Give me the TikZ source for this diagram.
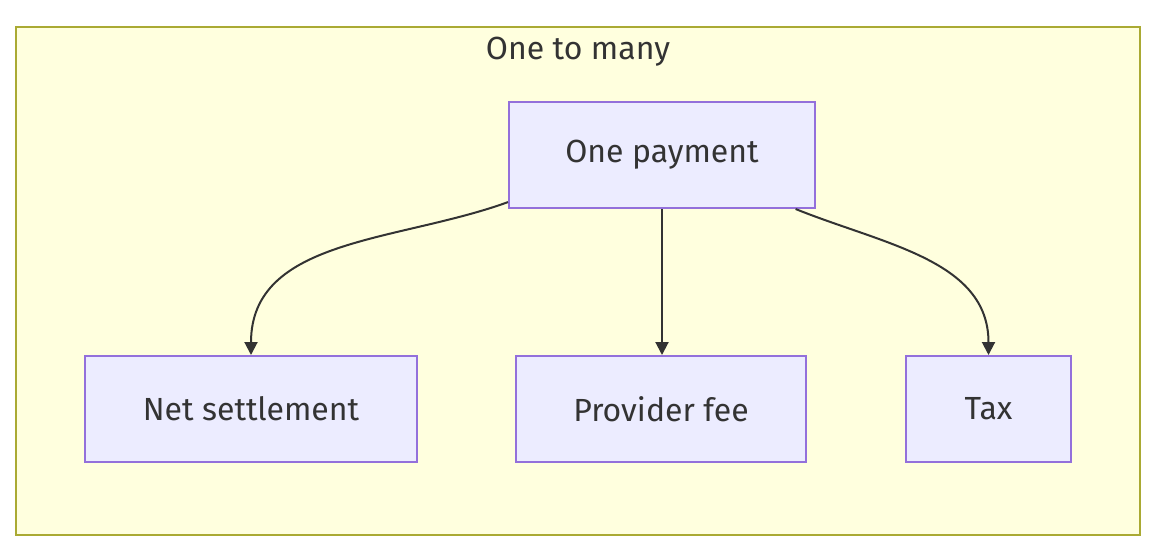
\documentclass[tikz,border=0pt]{standalone}
\usepackage{fontspec}
\setmainfont{Fira Sans}
\usetikzlibrary{arrows.meta}
\definecolor{clusterfill}{HTML}{FFFFDE}
\definecolor{clusterline}{HTML}{AAAA33}
\definecolor{boxfill}{HTML}{ECECFF}
\definecolor{boxline}{HTML}{9370DB}
\definecolor{ink}{HTML}{333333}
\tikzset{
  box/.style={draw=boxline, fill=boxfill, line width=1pt, text=ink,
    minimum height=53pt, inner sep=0pt, font=\fontsize{16}{19}\selectfont},
  flow/.style={draw=ink, line width=1pt, -{Triangle[length=6.5pt,width=6.5pt]}}
}
\begin{document}
\begin{tikzpicture}[x=0.5pt, y=-0.5pt]
\useasboundingbox (0,0) rectangle (1172,559);
% the cluster
\draw[draw=clusterline, fill=clusterfill, line width=1pt] (16,27) rectangle (1140,535);
\node[text=ink, font=\fontsize{16}{19}\selectfont] (title) at (578,52) {One to many};
% the boxes
\node[box, minimum width=153pt] (pay) at (662,155) {One payment};
\node[box, minimum width=166pt] (net) at (251,409) {Net settlement};
\node[box, minimum width=145pt] (fee) at (661,409) {Provider fee};
\node[box, minimum width=82.5pt] (tax) at (988.5,409) {Tax};
% the edges
\draw[flow] (pay.-163) to[out=-160, in=90] (net);
\draw[flow] (pay) -- (pay |- fee.north);
\draw[flow] (pay) to[out=-22, in=90] (tax);
\end{tikzpicture}
\end{document}
